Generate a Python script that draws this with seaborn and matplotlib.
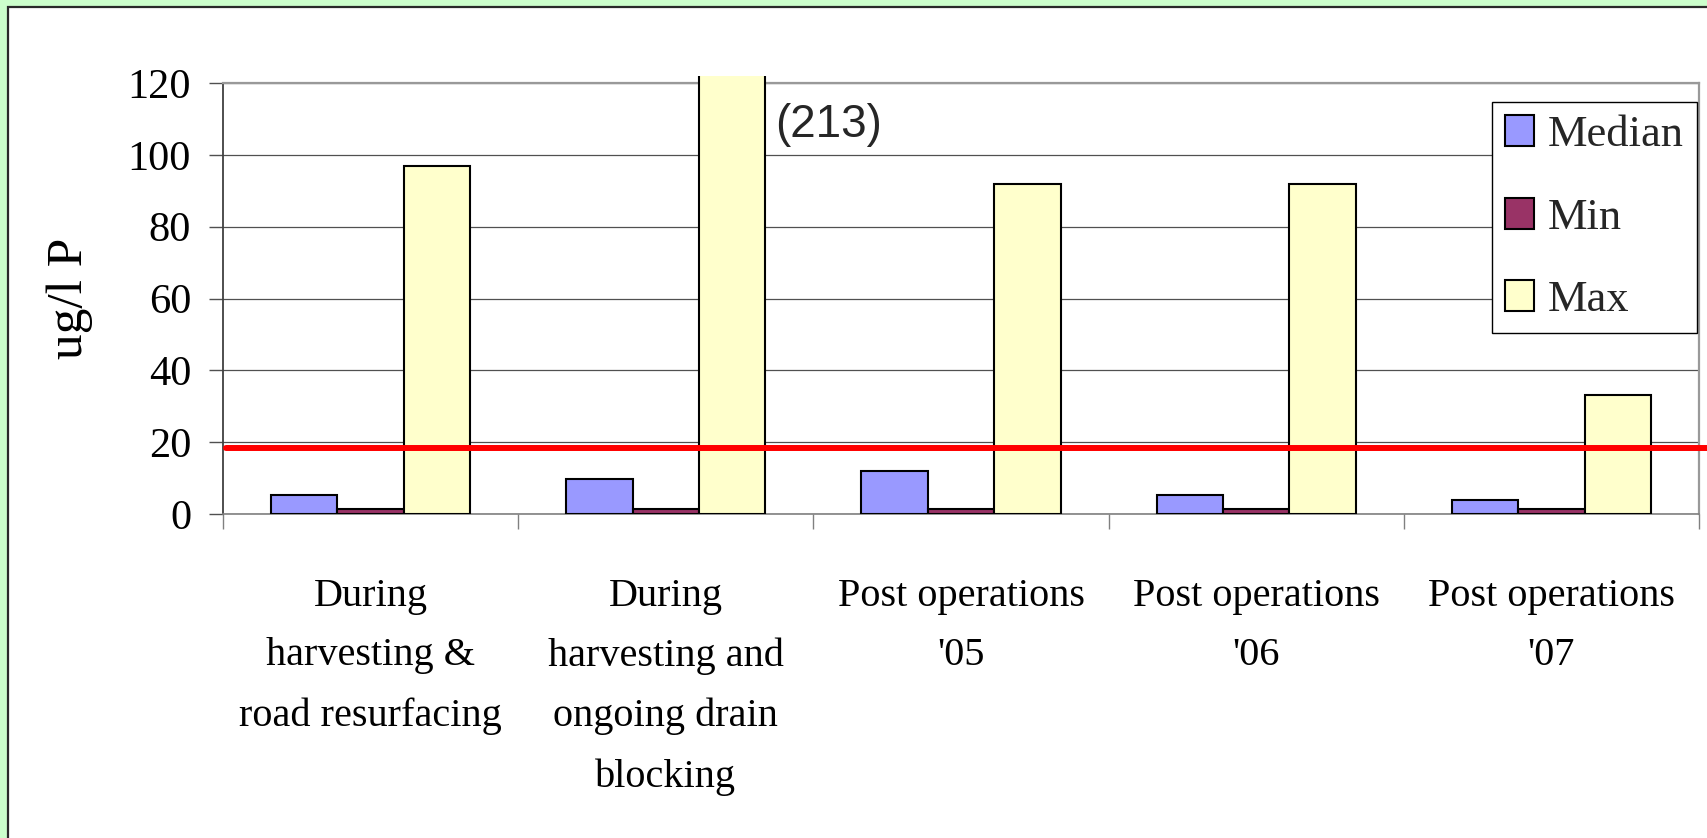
import numpy as np
import pandas as pd
import matplotlib
matplotlib.use("Agg")
import matplotlib.pyplot as plt
from matplotlib.patches import Rectangle
from matplotlib.transforms import Bbox, TransformedBbox
import seaborn as sns

# ---- data -------------------------------------------------------------
periods = [
    "During\nharvesting &\nroad resurfacing",
    "During\nharvesting and\nongoing drain\nblocking",
    "Post operations\n'05",
    "Post operations\n'06",
    "Post operations\n'07",
]
stats = ["Median", "Min", "Max"]
median_vals = [5.3, 9.7, 11.9, 5.2, 3.8]
min_vals = [1.5, 1.5, 1.5, 1.5, 1.5]
max_vals = [97, 213, 92, 92, 33]
threshold = 18.5
y_ticks = [0, 20, 40, 60, 80, 100, 120]

colors = {"Median": "#9999ff", "Min": "#993366", "Max": "#ffffcc"}

df = pd.DataFrame({
    "period": periods * 3,
    "stat": [s for s in stats for _ in periods],
    "value": median_vals + min_vals + max_vals,
})

# ---- figure -----------------------------------------------------------
sns.set_theme(style="white")
plt.rcParams["font.family"] = ["Liberation Serif", "DejaVu Serif"]

W, H = 1707, 838
fig = plt.figure(figsize=(W / 100, H / 100), dpi=100, facecolor="#ccffcc")

# white panel with dark left/top border
fig.patches.append(Rectangle((8 / W, -0.2), 1.3, 1.2 - 7 / H,
                             transform=fig.transFigure, facecolor="white",
                             edgecolor="#2a2a2a", linewidth=1.6, zorder=-10))

ax = fig.add_axes([223 / W, 1 - 514 / H, 1476 / W, 431 / H])
ax.set_facecolor("white")

sns.barplot(data=df, x="period", y="value", hue="stat", hue_order=stats,
            palette=colors, saturation=1, width=0.675, edgecolor="black",
            linewidth=1.5, ax=ax, zorder=3)

ax.set_ylim(0, 120)
ax.set_xlim(-0.5, len(periods) - 0.5)

# let the tall bar poke slightly above the frame
clip = TransformedBbox(Bbox([[0, 0], [1, 1.016]]), ax.transAxes)
for p in ax.patches:
    p.set_clip_box(clip)

# grid + frame
ax.set_yticks(y_ticks)
ax.yaxis.grid(True, color="#505050", linewidth=0.9, zorder=1)
ax.set_axisbelow(True)
ax.spines["left"].set_color("#404040")
ax.spines["left"].set_linewidth(1.3)
ax.spines["bottom"].set_color("#808080")
ax.spines["bottom"].set_linewidth(1.2)
for s in ("top", "right"):
    ax.spines[s].set_color("#999999")
    ax.spines[s].set_linewidth(1.6)

# y axis
ax.tick_params(axis="y", which="major", length=10, width=1, color="#505050",
               direction="out", pad=13, labelsize=30.5, labelcolor="black",
               left=True)
ax.set_ylabel("ug/l P", fontsize=37, color="black")
ax.yaxis.set_label_coords(-0.088, 0.5)

# x axis: labels centred, tick marks between groups
ax.set_xticks(range(len(periods)))
ax.set_xticklabels(periods, fontsize=29, linespacing=1.8, color="black")
ax.set_xticks(np.arange(-0.5, len(periods), 1), minor=True)
ax.tick_params(axis="x", which="major", length=0, pad=46)
ax.tick_params(axis="x", which="minor", length=11, width=1, color="#808080",
               direction="out", bottom=True)
ax.set_xlabel("")

# threshold line
ax.axhline(threshold, xmin=0.002, xmax=1.006, color="#ff0000",
           linewidth=4.3, clip_on=False, zorder=5)

# value note for the clipped bar
ax.text(1.37, 108.3, f"({max_vals[1]})", fontsize=33,
        family=["Liberation Sans", "DejaVu Sans"], ha="left", va="center",
        zorder=6)

# legend
handles, labels = ax.get_legend_handles_labels()
ax.get_legend().remove()
leg = ax.legend(handles, labels, loc="upper left",
                bbox_to_anchor=(1492 / W, 1 - 102 / H),
                bbox_transform=fig.transFigure, borderaxespad=0,
                fontsize=32, frameon=True, fancybox=False, shadow=False,
                handlelength=0.65, handleheight=0.7, handletextpad=0.3,
                labelspacing=0.95, borderpad=0.3)
leg.get_frame().set_edgecolor("black")
leg.get_frame().set_linewidth(1.0)
leg.get_frame().set_facecolor("white")
leg.get_frame().set_alpha(1)
leg.set_zorder(10)
for h in leg.legend_handles:
    h.set_edgecolor("black")
    h.set_linewidth(1.5)

fig.savefig("out.png", dpi=100, facecolor=fig.get_facecolor())
